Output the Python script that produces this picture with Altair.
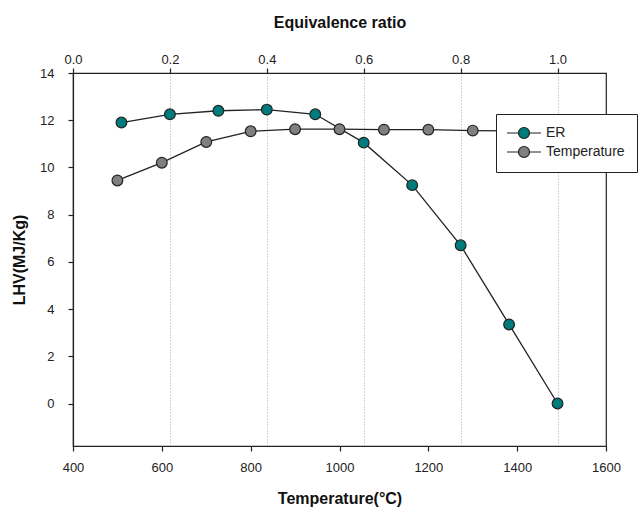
import altair as alt
import pandas as pd

# Equivalence ratio series (top axis)
er_x = [0.1, 0.2, 0.3, 0.4, 0.5, 0.6, 0.7, 0.8, 0.9, 1.0]
er_lhv = [11.9, 12.25, 12.4, 12.45, 12.25, 11.05, 9.25, 6.7, 3.35, 0.0]

# Temperature series (bottom axis)
temp_x = [500, 600, 700, 800, 900, 1000, 1100, 1200, 1300, 1400, 1500]
temp_lhv = [9.45, 10.2, 11.08, 11.53, 11.62, 11.62, 11.6, 11.6, 11.56, 11.55, 11.5]

series_names = ["ER", "Temperature"]
series_colors = ["#007b7b", "#808080"]

top_ticks = [0.0, 0.2, 0.4, 0.6, 0.8, 1.0]
bottom_ticks = [400, 600, 800, 1000, 1200, 1400, 1600]
y_ticks = [0, 2, 4, 6, 8, 10, 12, 14]

er_df = pd.DataFrame({"x": er_x, "lhv": er_lhv, "series": "ER"})
t_df = pd.DataFrame({"x": temp_x, "lhv": temp_lhv, "series": "Temperature"})

FONT = "Liberation Sans"
INK = "#222222"

y_enc = alt.Y(
    "lhv:Q",
    scale=alt.Scale(domain=[-1.8, 14], nice=False, zero=False),
    axis=alt.Axis(
        values=y_ticks, grid=False, tickSize=5, labelPadding=14,
        title="LHV(MJ/Kg)", titlePadding=12,
    ),
)

fill_enc = alt.Fill(
    "series:N",
    scale=alt.Scale(domain=series_names, range=series_colors),
    legend=alt.Legend(
        title=None, orient="none", legendX=423, legendY=41, zindex=1,
        fillColor="white", strokeColor=INK, padding=12,
        symbolType="M-3.1,0L-1,0M1,0L3.1,0M1,0A1,1 0 1 1 -1,0A1,1 0 1 1 1,0Z",
        symbolSize=121, symbolStrokeColor=INK, symbolStrokeWidth=1.2,
        symbolOffset=9,
        labelFontSize=14, labelFont=FONT, labelColor=INK, labelOffset=15,
        rowPadding=3,
    ),
)

x_top = alt.X(
    "x:Q",
    scale=alt.Scale(domain=[0, 1.1], nice=False, zero=False),
    axis=alt.Axis(
        orient="top", values=top_ticks, format=".1f", grid=True,
        gridDash=[1, 2], gridColor="#a8a8a8", gridWidth=1, tickSize=5,
        labelFlush=False, labelPadding=2, title="Equivalence ratio", titlePadding=23,
    ),
)
x_bottom = alt.X(
    "x:Q",
    scale=alt.Scale(domain=[400, 1600], nice=False, zero=False),
    axis=alt.Axis(
        orient="bottom", values=bottom_ticks, format="d", grid=False, tickSize=5,
        labelFlush=False, labelPadding=10, title="Temperature(°C)", titlePadding=16,
    ),
)

er_base = alt.Chart(er_df)
er_line = er_base.mark_line(color=INK, strokeWidth=1.3).encode(x=x_top, y=y_enc)
er_pts = er_base.mark_circle(size=115, opacity=1, stroke=INK, strokeWidth=1.2).encode(
    x=x_top, y=y_enc, fill=fill_enc
)

t_base = alt.Chart(t_df)
t_line = t_base.mark_line(color=INK, strokeWidth=1.3).encode(x=x_bottom, y=y_enc)
t_pts = t_base.mark_circle(size=115, opacity=1, stroke=INK, strokeWidth=1.2).encode(
    x=x_bottom, y=y_enc, fill=fill_enc
)

chart = (
    alt.layer(alt.layer(er_line, er_pts), alt.layer(t_line, t_pts))
    .resolve_scale(x="independent")
    .properties(
        width=533, height=373,
        autosize=alt.AutoSizeParams(type="none"),
        padding={"left": 73, "top": 73, "right": 32, "bottom": 64},
    )
    .configure_view(stroke=INK, strokeWidth=1.2)
    .configure_axis(
        domainColor=INK, domainWidth=1.2, tickColor=INK, tickWidth=1.2,
        labelColor=INK, labelFont=FONT, labelFontSize=13,
        titleFont=FONT, titleFontSize=16, titleFontWeight="bold", titleColor="#111111",
    )
)

chart.save("out.html", embed_options={"renderer": "svg", "actions": False})
